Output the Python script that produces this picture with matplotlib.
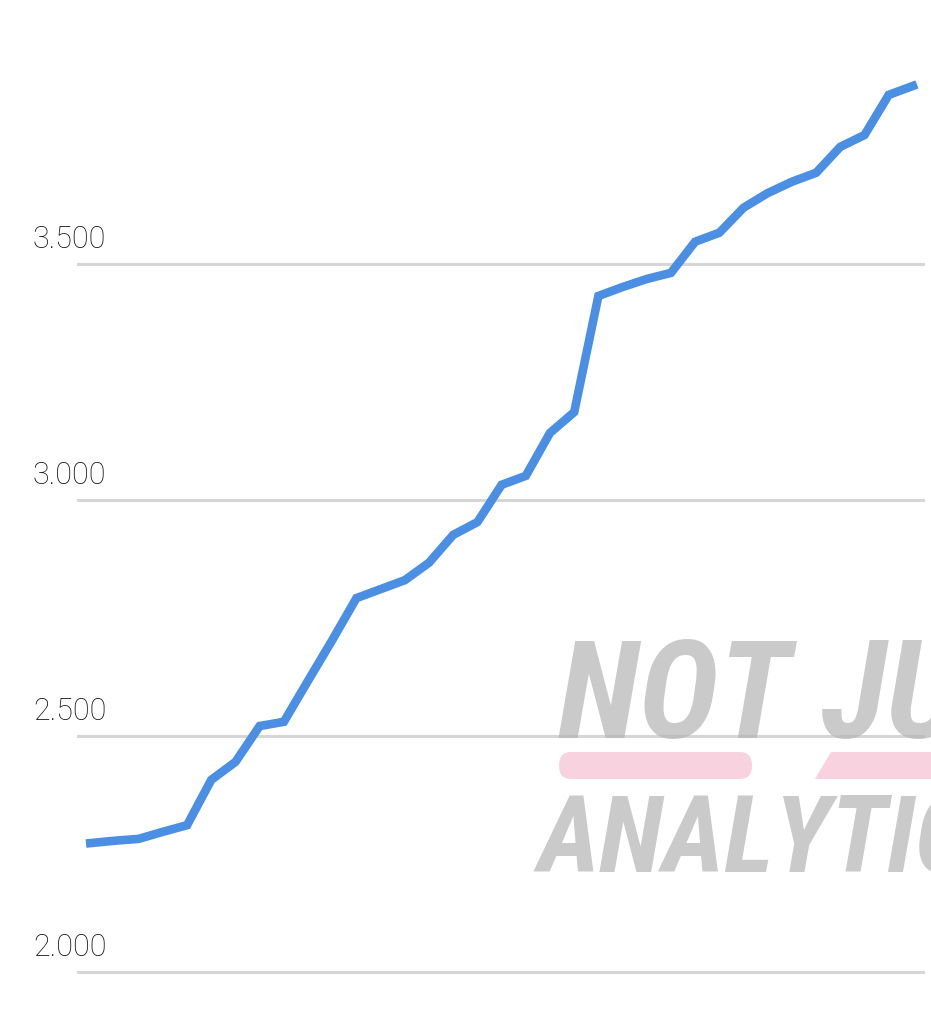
import matplotlib
matplotlib.use("Agg")
import matplotlib.pyplot as plt
from matplotlib.patches import FancyBboxPatch, Polygon

# monthly values
values = [2273, 2278, 2282, 2297, 2311, 2407, 2445, 2521, 2530, 2617,
          2703, 2792, 2811, 2830, 2867, 2926, 2953, 3032, 3051, 3142,
          3186, 3432, 3451, 3468, 3481, 3547, 3566, 3619, 3650, 3674,
          3693, 3748, 3773, 3858, 3877]
yticks = [2000, 2500, 3000, 3500]
ytick_labels = ["2.000", "2.500", "3.000", "3.500"]

W, H = 931, 1014
fig = plt.figure(figsize=(W / 100, H / 100), dpi=100)
ax = fig.add_axes([77 / W, 0, 848 / W, 1])

x = list(range(len(values)))
ax.plot(x, values, color="#4a8fe3", lw=6.2, solid_joinstyle="miter", zorder=3)

ax.set_xlim(-0.55, 34.5)
ax.set_ylim(1911, 4059)
for v in yticks:
    ax.axhline(v, color="#d6d6d6", lw=2.2, zorder=1)
for v, lab in zip(yticks, ytick_labels):
    ax.annotate(lab, xy=(33 / W, v), xycoords=("figure fraction", "data"),
                xytext=(0, 7), textcoords="offset points",
                ha="left", va="bottom", fontsize=22, color="#111111",
                family="Roboto", fontweight="light", annotation_clip=False)
ax.axis("off")

# watermark (cut off at the right edge, as in the source)
wm_font = ["Roboto Condensed", "Liberation Sans Narrow", "DejaVu Sans"]
pink = "#f9d2e0"
fig.patches.append(FancyBboxPatch((559 / W, 1 - 779 / H), 193 / W, 27 / H,
                                  boxstyle="round,pad=0,rounding_size=0.013",
                                  transform=fig.transFigure, fc=pink, ec="none", zorder=2))
fig.patches.append(Polygon([(815 / W, 1 - 779 / H), (831 / W, 1 - 752 / H),
                            (1, 1 - 752 / H), (1, 1 - 779 / H)],
                           transform=fig.transFigure, fc=pink, ec="none", zorder=2))
fig.text(558 / W, 1 - 738 / H, "NOT JUST", fontsize=98, fontweight="heavy", style="italic",
         family=wm_font, color="#b4b4b4", alpha=0.7,
         ha="left", va="baseline", zorder=2)
fig.text(538 / W, 1 - 872 / H, "ANALYTICS", fontsize=77, fontweight="heavy", style="italic",
         family=wm_font, color="#b4b4b4", alpha=0.7,
         ha="left", va="baseline", zorder=2)

fig.savefig("out.png", dpi=100, facecolor="white")
